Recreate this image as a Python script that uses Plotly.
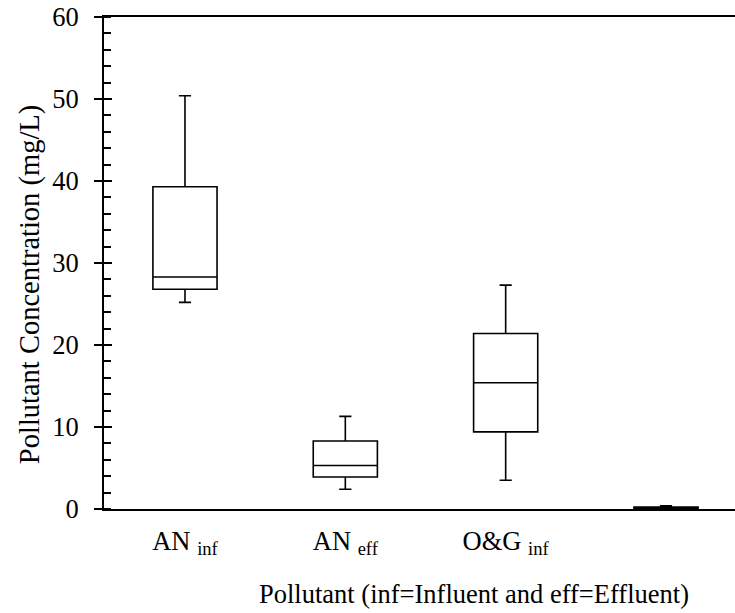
import plotly.graph_objects as go

categories = ["AN <sub>inf</sub>", "AN <sub>eff</sub>", "O&G <sub>inf</sub>", ""]
positions = [0, 1, 2, 3]
lower_whisker = [25.2, 2.4, 3.5, 0.0]
q1_vals = [26.8, 3.9, 9.4, 0.05]
median_vals = [28.3, 5.3, 15.4, 0.1]
q3_vals = [39.3, 8.3, 21.4, 0.25]
upper_whisker = [50.4, 11.3, 27.3, 0.4]
y_title = "Pollutant Concentration (mg/L)"
x_title = "Pollutant (inf=Influent and eff=Effluent)"

FONT = "Liberation Serif"
FS = 26.5

fig = go.Figure()
fig.add_trace(go.Box(
    x=positions,
    q1=q1_vals, median=median_vals, q3=q3_vals,
    lowerfence=lower_whisker, upperfence=upper_whisker,
    boxpoints=False,
    width=0.4,
    whiskerwidth=0.19,
    line=dict(color="black", width=1.6),
    fillcolor="rgba(0,0,0,0)",
    showlegend=False,
    hoverinfo="skip",
))
# invisible trace to anchor the overlay axis for crossing major ticks
fig.add_trace(go.Scatter(x=[0], y=[0], yaxis="y2", mode="markers",
                         marker=dict(opacity=0), showlegend=False, hoverinfo="skip"))

fig.update_layout(
    width=844, height=613,
    margin=dict(l=104, r=0, t=17, b=104),
    plot_bgcolor="white", paper_bgcolor="white",
    font=dict(family=FONT, size=FS, color="black"),
    xaxis=dict(
        range=[-0.505, 4.11],
        tickvals=positions, ticktext=categories,
        showline=True, linecolor="black", linewidth=2, mirror=True,
        ticks="", showgrid=False, zeroline=False,
        ticklabelstandoff=7,
        tickfont=dict(family=FONT, size=FS),
        title=dict(text=x_title, font=dict(family=FONT, size=FS), standoff=26),
    ),
    yaxis=dict(
        range=[0, 60], dtick=10,
        showline=True, linecolor="black", linewidth=2,
        ticks="outside", ticklen=8, tickwidth=2, tickcolor="black",
        ticklabelstandoff=10, ticklabeloverflow="allow",
        minor=dict(dtick=2, ticks="inside", ticklen=7, tickwidth=1.5, tickcolor="black"),
        showgrid=False, zeroline=False,
        tickfont=dict(family=FONT, size=FS),
    ),
    yaxis2=dict(
        range=[0, 60], dtick=10, overlaying="y", side="left",
        anchor="x", showline=False, showgrid=False, zeroline=False,
        ticks="inside", ticklen=8, tickwidth=2, tickcolor="black",
        showticklabels=False,
    ),
    annotations=[dict(
        text=y_title, textangle=-90, showarrow=False,
        xref="paper", yref="paper", x=-0.1, y=0.455,
        xanchor="center", yanchor="middle",
        font=dict(family=FONT, size=28.5, color="black"),
    )],
)

fig.write_html("out.html", config={"displayModeBar": False},
               post_script="document.body.style.margin='0';document.body.style.overflow='hidden';")
